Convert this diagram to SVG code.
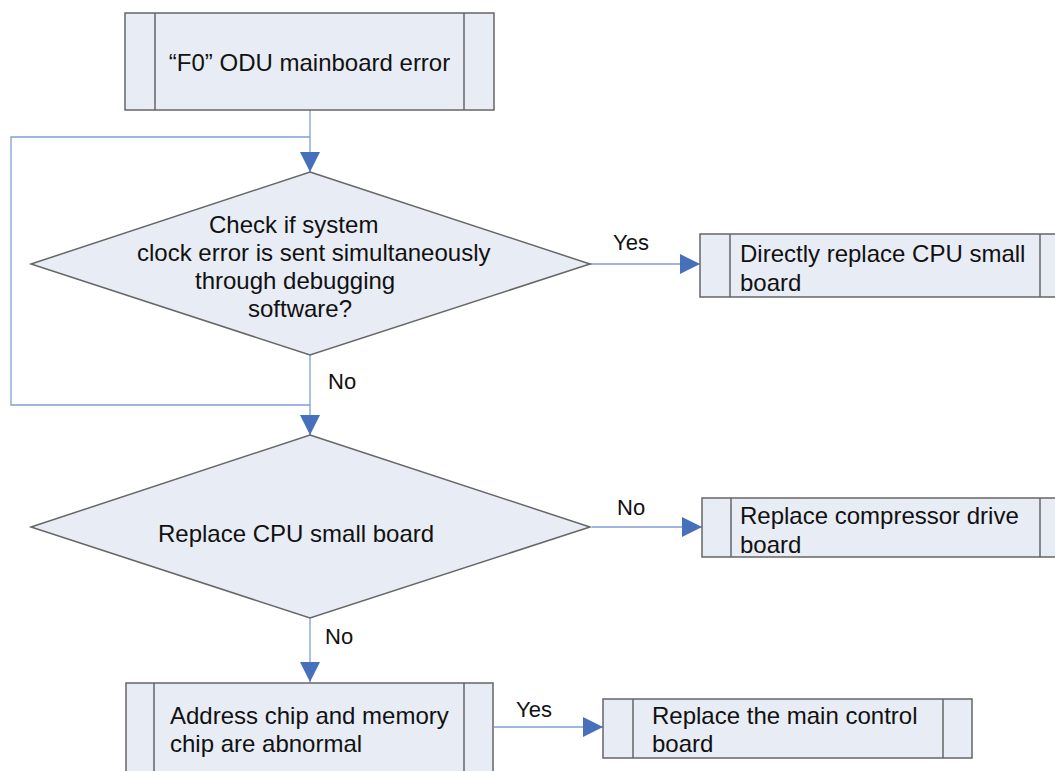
<svg xmlns="http://www.w3.org/2000/svg" width="1055" height="771" viewBox="0 0 1055 771">
<defs>
<style>
.box{fill:#E8ECF5;stroke:#666666;stroke-width:1.5}
.sep{fill:none;stroke:#666666;stroke-width:1.5}
.t{font-family:"Liberation Sans",Arial,sans-serif;font-size:24px;fill:#111}
.lbl{font-family:"Liberation Sans",Arial,sans-serif;font-size:22px;fill:#111}
.c{fill:none;stroke:#7f9fd6;stroke-width:1.3}
</style>
<marker id="ah" markerUnits="userSpaceOnUse" markerWidth="20" markerHeight="20" viewBox="0 0 20 20" refX="20" refY="10" orient="auto">
<path d="M0,0 L20,10 L0,20 Z" fill="#4670b9"/>
</marker>
</defs>
<rect width="1055" height="771" fill="#ffffff"/>
<g id="connectors">
<path class="c" d="M310,110 V172" marker-end="url(#ah)"/>
<path class="c" d="M310,137 H11 V405 H310"/>
<path class="c" d="M310,355 V435" marker-end="url(#ah)"/>
<path class="c" d="M590,264 H700" marker-end="url(#ah)"/>
<path class="c" d="M592,527 H702" marker-end="url(#ah)"/>
<path class="c" d="M310,618 V682" marker-end="url(#ah)"/>
<path class="c" d="M494,727 H603" marker-end="url(#ah)"/>
<text class="lbl" x="613" y="250">Yes</text>
<text class="lbl" x="328" y="389">No</text>
<text class="lbl" x="617" y="515">No</text>
<text class="lbl" x="325" y="644">No</text>
<text class="lbl" x="516" y="717">Yes</text>
</g>
<g id="start">
<rect class="box" x="125" y="13" width="369" height="97"/>
<path class="sep" d="M155,13 V110 M464,13 V110"/>
<text class="t" x="309.5" y="71" text-anchor="middle">“F0” ODU mainboard error</text>
</g>
<g id="check">
<polygon class="box" points="310,172 590,264 310,355 31,264"/>
<text class="t" x="209" y="233">Check if system</text>
<text class="t" x="137" y="261">clock error is sent simultaneously</text>
<text class="t" x="195" y="289">through debugging</text>
<text class="t" x="248" y="317">software?</text>
</g>
<g id="replace-direct">
<rect class="box" x="700" y="234" width="380" height="63"/>
<path class="sep" d="M730,234 V297 M1040,234 V297"/>
<text class="t" x="740" y="262">Directly replace CPU small</text>
<text class="t" x="740" y="291">board</text>
</g>
<g id="replace-cpu">
<polygon class="box" points="310,435 590,527 310,618 31,527"/>
<text class="t" x="158" y="542">Replace CPU small board</text>
</g>
<g id="replace-compressor">
<rect class="box" x="702" y="498" width="380" height="59"/>
<path class="sep" d="M731,498 V557 M1040,498 V557"/>
<text class="t" x="740" y="524">Replace compressor drive</text>
<text class="t" x="740" y="553">board</text>
</g>
<g id="chip-abnormal">
<rect class="box" x="126" y="683" width="367" height="110"/>
<path class="sep" d="M154,683 V793 M464,683 V793"/>
<text class="t" x="170" y="724">Address chip and memory</text>
<text class="t" x="170" y="752">chip are abnormal</text>
</g>
<g id="replace-main">
<rect class="box" x="603" y="699" width="369" height="59"/>
<path class="sep" d="M633,699 V758 M943,699 V758"/>
<text class="t" x="652" y="724">Replace the main control</text>
<text class="t" x="652" y="752">board</text>
</g>
</svg>
